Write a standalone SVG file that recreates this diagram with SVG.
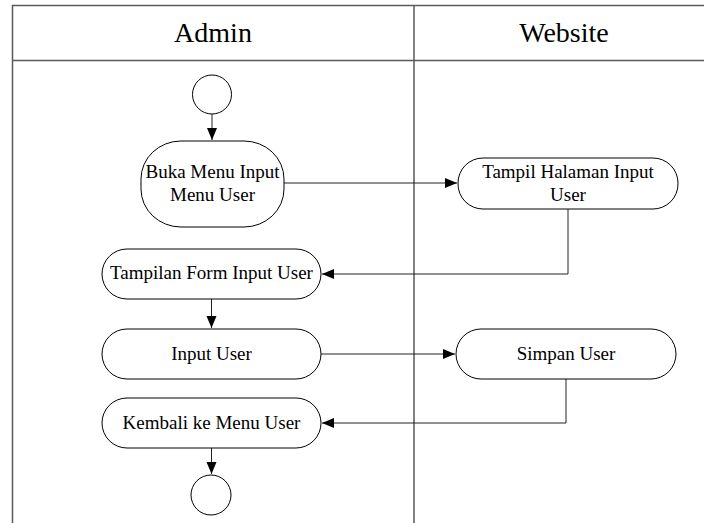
<svg xmlns="http://www.w3.org/2000/svg" width="704" height="523" viewBox="0 0 704 523">
<style>
.lane{stroke:#5a5a5a;stroke-width:1.5;fill:none}
.node{fill:#fff;stroke:#000;stroke-width:1}
.conn{fill:none;stroke:#222;stroke-width:1}
.t{font-family:"Liberation Serif","Times New Roman",serif;font-size:19px;fill:#000;text-anchor:middle}
.h{font-family:"Liberation Serif","Times New Roman",serif;font-size:28px;fill:#000;text-anchor:middle}
</style>
<defs>
<marker id="arr" markerUnits="userSpaceOnUse" markerWidth="13" markerHeight="11" refX="12" refY="5" orient="auto">
<path d="M0,0 L12,5 L0,10 z" fill="#000"/>
</marker>
</defs>
<rect width="704" height="523" fill="#fff"/>
<g id="lanes">
<path class="lane" d="M12.5,523 V5.5 H704 M12.5,60.5 H704 M414,5.5 V523"/>
<text class="h" x="213" y="42">Admin</text>
<text class="h" x="564" y="42">Website</text>
</g>
<g id="connectors">
<path class="conn" d="M212,114 V140" marker-end="url(#arr)"/>
<path class="conn" d="M284,183 H457" marker-end="url(#arr)"/>
<path class="conn" d="M568,209 V274 H322" marker-end="url(#arr)"/>
<path class="conn" d="M211.5,299 V328" marker-end="url(#arr)"/>
<path class="conn" d="M321,354 H455" marker-end="url(#arr)"/>
<path class="conn" d="M566,379 V423 H322" marker-end="url(#arr)"/>
<path class="conn" d="M211.5,448 V474" marker-end="url(#arr)"/>
</g>
<g id="start"><circle class="node" cx="212" cy="94.5" r="19.5"/></g>
<g id="buka">
<rect class="node" x="141" y="141" width="143" height="86" rx="40" ry="38"/>
<text class="t" x="212.5" y="178">Buka Menu Input</text>
<text class="t" x="212.5" y="201">Menu User</text>
</g>
<g id="tampil-halaman">
<rect class="node" x="458" y="158" width="220" height="51" rx="25" ry="25"/>
<text class="t" x="568" y="178">Tampil Halaman Input</text>
<text class="t" x="568" y="201">User</text>
</g>
<g id="tampilan-form">
<rect class="node" x="102" y="249" width="219" height="50" rx="25" ry="25"/>
<text class="t" x="211.5" y="279">Tampilan Form Input User</text>
</g>
<g id="input-user">
<rect class="node" x="102" y="329" width="219" height="50" rx="25" ry="25"/>
<text class="t" x="211.5" y="360">Input User</text>
</g>
<g id="simpan-user">
<rect class="node" x="456" y="329" width="220" height="50" rx="25" ry="25"/>
<text class="t" x="566" y="360">Simpan User</text>
</g>
<g id="kembali">
<rect class="node" x="102" y="398" width="219" height="50" rx="25" ry="25"/>
<text class="t" x="211.5" y="429">Kembali ke Menu User</text>
</g>
<g id="end"><circle class="node" cx="211" cy="495" r="20"/></g>
</svg>
